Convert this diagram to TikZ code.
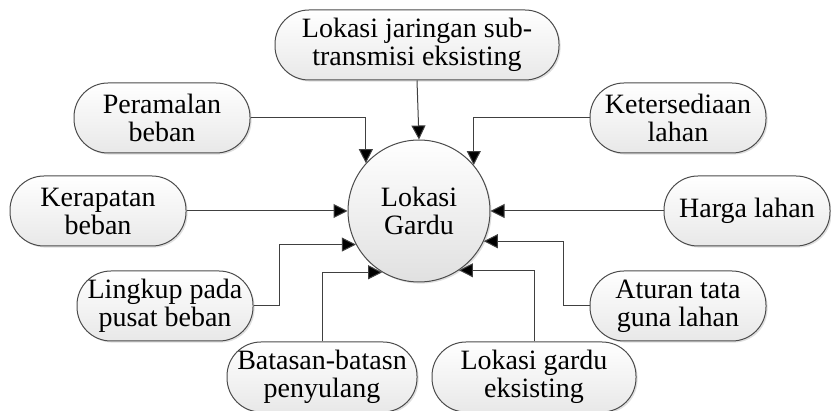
\documentclass[tikz,border=0pt]{standalone}
\usepackage{fontspec}
\setmainfont{Liberation Serif}
\usetikzlibrary{arrows.meta,shadows}
\begin{document}
\begin{tikzpicture}[
      x=0.5pt, y=-0.5pt,
      font=\fontsize{14}{14}\selectfont,
      faktor/.style={
        draw=black!70, line width=0.5pt, rounded corners=17pt,
        top color=white, bottom color=black!9,
        drop shadow={opacity=0.25, shadow xshift=0.8pt, shadow yshift=-0.8pt},
        align=center, inner sep=1pt, minimum height=35pt
      },
      pusat/.style={
        draw=black!70, line width=0.5pt, circle,
        top color=white, bottom color=black!12,
        drop shadow={opacity=0.25, shadow xshift=0.8pt, shadow yshift=-0.8pt},
        align=center, minimum size=71pt, inner sep=0pt
      },
      panah/.style={
        draw=black!75, line width=0.5pt,
        -{Triangle[length=7pt,width=7pt,fill=black]}
      }
    ]
    \useasboundingbox (0,0) rectangle (831,411);

    \node[pusat] (gardu) at (419,211) {Lokasi\\Gardu};

    \node[faktor, minimum width=142pt] (sub) at (417,45) {Lokasi jaringan sub-\\transmisi eksisting};
    \node[faktor, minimum width=88pt] (ramal) at (162,118) {Peramalan\\beban};
    \node[faktor, minimum width=88pt] (rapat) at (98,211) {Kerapatan\\beban};
    \node[faktor, minimum width=88pt] (lingkup) at (165,306) {Lingkup pada\\pusat beban};
    \node[faktor, minimum width=95pt] (batas) at (322,377) {Batasan-batasn\\penyulang};
    \node[faktor, minimum width=88pt] (sedia) at (678,118) {Ketersediaan\\lahan};
    \node[faktor, minimum width=83pt] (harga) at (747,211) {Harga lahan};
    \node[faktor, minimum width=88pt] (aturan) at (678,306) {Aturan tata\\guna lahan};
    \node[faktor, minimum width=102pt] (eksis) at (534,377) {Lokasi gardu\\eksisting};

    \draw[panah] (sub.south) -- (gardu.north);
    \draw[panah] (ramal.east) -| (gardu.138);
    \draw[panah] (sedia.west) -| (gardu.40);
    \draw[panah] (rapat.east) -- (gardu.west);
    \draw[panah] (harga.west) -- (gardu.east);
    \draw[panah] (lingkup.east) -- ++(26,0) |- (gardu.208);
    \draw[panah] (batas.north) |- (gardu.239);
    \draw[panah] (aturan.west) -- ++(-26,0) |- (gardu.335);
    \draw[panah] (eksis.north) |- (gardu.304);
  \end{tikzpicture}
\end{document}
